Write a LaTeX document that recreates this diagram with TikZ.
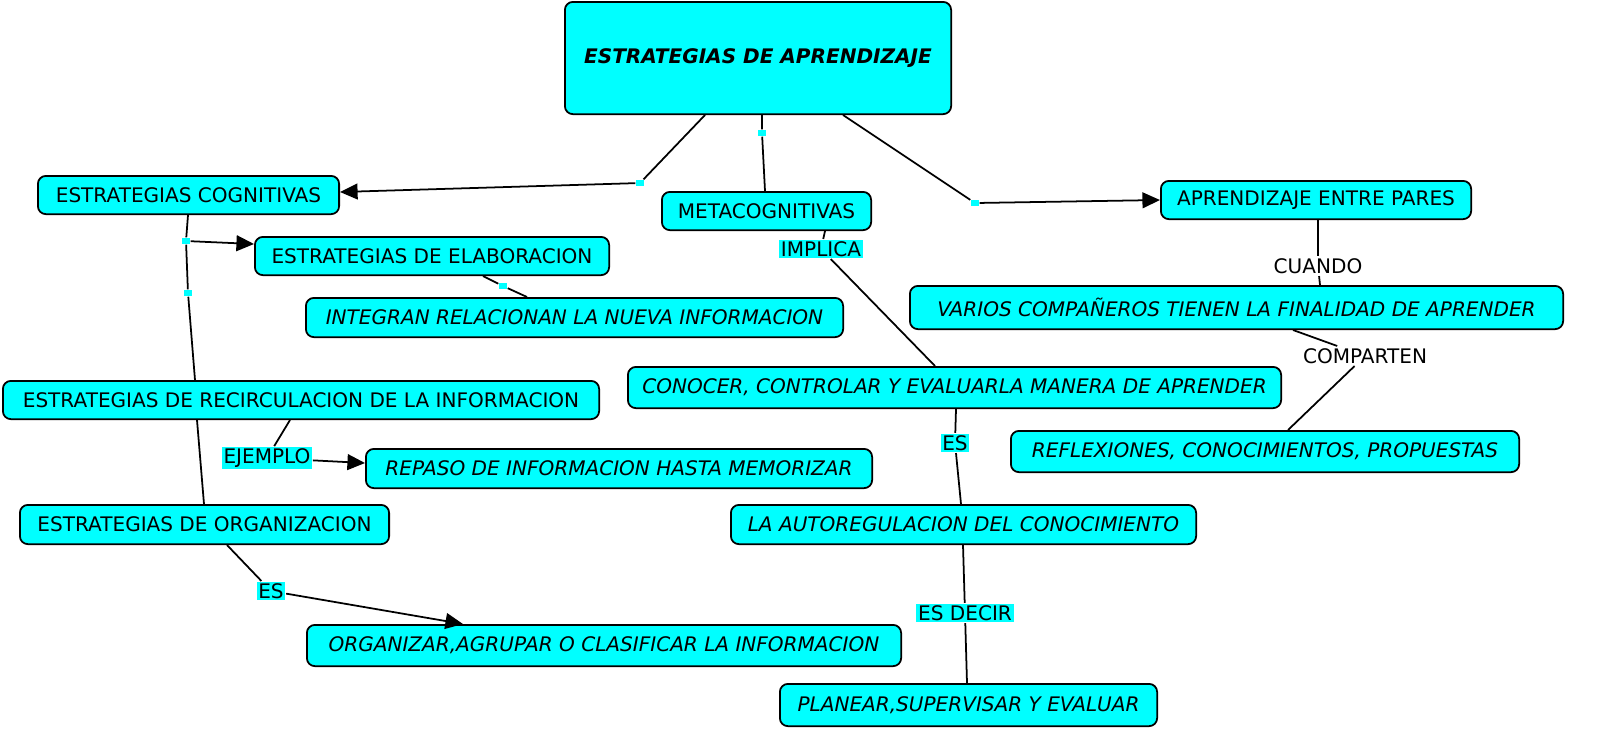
\documentclass[tikz,border=0pt]{standalone}
\usepackage{fontspec}
\setmainfont{DejaVu Sans}
\usetikzlibrary{arrows.meta}
\definecolor{boxc}{RGB}{0,255,255}
\tikzset{
 box/.style={draw=black,fill=boxc,rounded corners=0.08cm,inner sep=0pt,font=\fontsize{5.7}{6.5}\selectfont,line width=0.5pt},
 itbox/.style={box,font=\fontsize{5.7}{6.5}\selectfont\itshape},
 lab/.style={fill=boxc,inner sep=0.5pt,font=\fontsize{5.7}{6.5}\selectfont},
 wlab/.style={fill=white,inner sep=0.5pt,font=\fontsize{5.7}{6.5}\selectfont},
 mk/.style={fill=boxc,inner sep=0pt,minimum width=0.08cm,minimum height=0.06cm},
 ln/.style={line width=0.5pt},
 arr/.style={line width=0.5pt,-{Triangle[length=5pt,width=4.5pt]}}
}
\newcommand{\bx}[7]{\node[#1,minimum width=#4*0.01cm-0.5pt,minimum height=#5*0.01cm-0.5pt] (#2) at ({(#3+#4/2)},{(#6+#5/2)}) {#7};}
\begin{document}
\begin{tikzpicture}[x=0.01cm,y=-0.01cm]
\fill[white] (0,0) rectangle (1600,747);
\useasboundingbox (0,0) rectangle (1600,747);
\bx{box,font=\fontsize{5.7}{6.5}\selectfont\bfseries\itshape}{title}{564}{388}{114}{1}{ESTRATEGIAS DE APRENDIZAJE}
\bx{box}{cog}{37}{303}{40}{175}{ESTRATEGIAS COGNITIVAS}
\bx{box}{meta}{661}{211}{40}{191}{METACOGNITIVAS}
\bx{box}{pares}{1160}{312}{40}{180}{APRENDIZAJE ENTRE PARES}
\bx{box}{elab}{254}{356}{40}{236}{ESTRATEGIAS DE ELABORACION}
\bx{itbox}{integran}{305}{539}{41}{297}{INTEGRAN RELACIONAN LA NUEVA INFORMACION}
\bx{itbox}{varios}{909}{655}{45}{285}{VARIOS COMPAÑEROS TIENEN LA FINALIDAD DE APRENDER}
\bx{itbox}{conocer}{627}{655}{43}{366}{CONOCER, CONTROLAR Y EVALUARLA MANERA DE APRENDER}
\bx{box}{recirc}{2}{598}{40}{380}{ESTRATEGIAS DE RECIRCULACION DE LA INFORMACION}
\bx{itbox}{reflex}{1010}{510}{43}{430}{REFLEXIONES, CONOCIMIENTOS, PROPUESTAS}
\bx{itbox}{repaso}{365}{508}{41}{448}{REPASO DE INFORMACION HASTA MEMORIZAR}
\bx{box}{organiz}{19}{371}{41}{504}{ESTRATEGIAS DE ORGANIZACION}
\bx{itbox}{autoreg}{730}{467}{41}{504}{LA AUTOREGULACION DEL CONOCIMIENTO}
\bx{itbox}{organizar}{306}{596}{43}{624}{ORGANIZAR,AGRUPAR O CLASIFICAR LA INFORMACION}
\bx{itbox}{planear}{779}{379}{44}{683}{PLANEAR,SUPERVISAR Y EVALUAR}
\node[mk] (m1) at (640,183) {};
\node[mk] (m2) at (762,133) {};
\node[mk] (m3) at (975,203) {};
\node[mk] (m4) at (186,241) {};
\node[mk] (m5) at (188,293) {};
\node[mk] (m6) at (503,286) {};
\node[lab] (implica) at (821,249) {IMPLICA};
\node[wlab] (cuando) at (1318,266) {CUANDO};
\node[wlab] (comparten) at (1365,356) {COMPARTEN};
\node[lab] (es1) at (955,443) {ES};
\node[lab] (esdecir) at (965,613) {ES DECIR};
\node[lab] (ejemplo) at (267,458) {EJEMPLO};
\node[lab] (es2) at (271,591) {ES};
\draw[ln] (705,115 |- title.south) -- (m1);
\draw[arr] (m1) -- (cog.east |- 0,192);
\draw[ln] (762,115 |- title.south) -- (m2) -- (765,191 |- meta.north);
\draw[ln] (843,115 |- title.south) -- (m3);
\draw[arr] (m3) -- (pares.west |- 0,200);
\draw[ln] (188,215 |- cog.south) -- (m4);
\draw[arr] (m4) -- (elab.west |- 0,244);
\draw[ln] (m4) -- (m5) -- (195,380 |- recirc.north);
\draw[ln] (197,420 |- recirc.south) -- (204,504 |- organiz.north);
\draw[ln] (483,276 |- elab.south) -- (m6) -- (527,297 |- integran.north);
\draw[ln] (825,231 |- meta.south) -- (implica) -- (935,366 |- conocer.north);
\draw[ln] (1318,220 |- pares.south) -- (cuando) -- (1320,285 |- varios.north);
\draw[ln] (1293,330 |- varios.south) -- (comparten) -- (1288,430 |- reflex.north);
\draw[ln] (956,409 |- conocer.south) -- (es1) -- (961,504 |- autoreg.north);
\draw[ln] (963,545 |- autoreg.south) -- (esdecir) -- (967,683 |- planear.north);
\draw[ln] (290,420 |- recirc.south) -- (ejemplo);
\draw[arr] (ejemplo) -- (repaso.west |- 0,463);
\draw[ln] (227,545 |- organiz.south) -- (es2);
\draw[arr] (es2) -- (463,624 |- organizar.north);
\end{tikzpicture}
\end{document}
